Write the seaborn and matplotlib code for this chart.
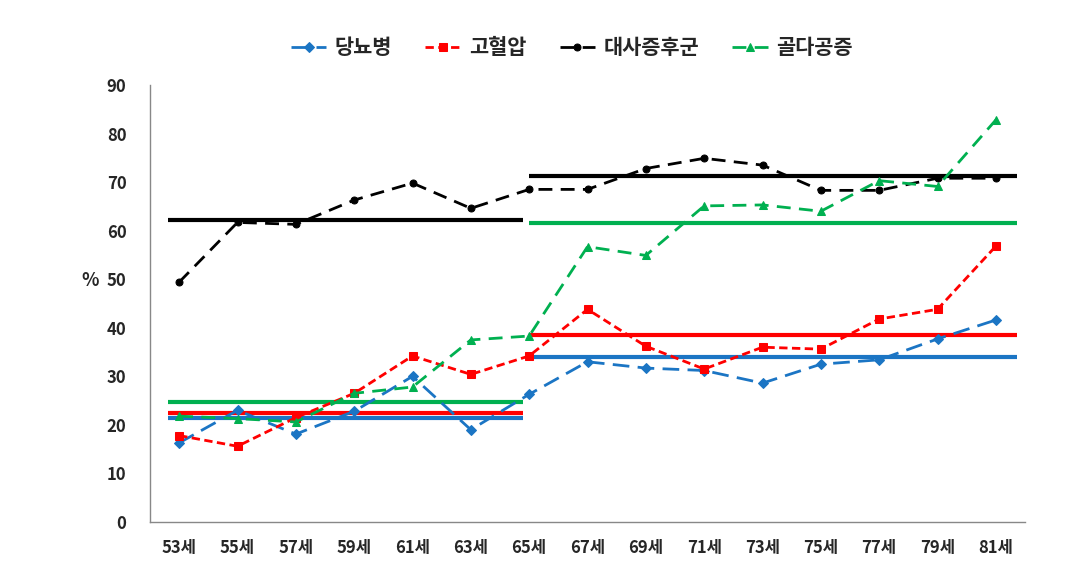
import matplotlib
matplotlib.use("Agg")
import matplotlib.pyplot as plt
import seaborn as sns
import numpy as np
import pandas as pd

ages = ["53세", "55세", "57세", "59세", "61세", "63세", "65세", "67세",
        "69세", "71세", "73세", "75세", "77세", "79세", "81세"]
diabetes = [16.3, 23.0, 18.1, 22.8, 30.0, 19.0, 26.3, 33.0, 31.7, 31.2, 28.6, 32.5, 33.4, 37.7, 41.6]
hypertension = [17.8, 15.6, 21.5, 26.5, 34.2, 30.4, 34.2, 43.8, 36.2, 31.5, 36.0, 35.6, 41.8, 43.8, 56.8]
metabolic = [49.4, 61.7, 61.3, 66.3, 69.8, 64.6, 68.5, 68.5, 72.8, 74.9, 73.5, 68.3, 68.3, 70.8, 70.8]
osteo = [21.8, 21.3, 20.6, 26.5, 27.8, 37.5, 38.3, 56.7, 54.9, 65.1, 65.3, 64.0, 70.3, 69.1, 82.8]

series_names = ["당뇨병", "고혈압", "대사증후군", "골다공증"]
avg_early = [21.4, 22.4, 62.1, 24.7]   # 53-65세 average
avg_late = [34.0, 38.5, 71.2, 61.5]    # 65-81세 average

colors = ["#1B75C4", "#FF0000", "#000000", "#00B050"]
markers = ["D", "s", "o", "^"]
msizes = [5, 6, 5, 6]
dashes = [(6, 3), (3, 1.6), (5, 3), (5, 3)]

sns.set_theme(style="white")
plt.rcParams['font.family'] = ['Noto Sans CJK KR', 'DejaVu Sans']

fig = plt.figure(figsize=(10.9, 5.79), dpi=100)
ax = fig.add_axes([150/1090, 1-522/579, 875/1090, (522-85)/579])

x = np.arange(len(ages))
all_vals = [diabetes, hypertension, metabolic, osteo]
for name, vals, c, m, ms, d in zip(series_names, all_vals, colors, markers, msizes, dashes):
    df = pd.DataFrame({"x": x, "y": vals})
    sns.lineplot(data=df, x="x", y="y", ax=ax, color=c, marker=m, markersize=ms,
                 markeredgecolor=c, linewidth=2, dashes=False, label=name)
    ax.lines[-1].set_dashes(d)

# average lines
for i in range(4):
    ax.hlines(avg_early[i], -0.19, 5.9, colors=colors[i], linewidth=3, zorder=1)
    ax.hlines(avg_late[i], 6.0, 14.37, colors=colors[i], linewidth=3, zorder=1)

ax.set_xlim(-0.5, len(ages) - 0.5)
ax.set_ylim(0, 90)
ax.set_yticks(np.arange(0, 91, 10))
ax.set_xticks(x)
ax.set_xticklabels(ages, fontsize=12, fontweight="bold")
ax.set_xticks(np.arange(-0.5, len(ages), 1), minor=True)
ax.tick_params(axis="x", which="major", length=0, pad=12)
ax.tick_params(axis="x", which="minor", length=5, color="#888888", width=1, direction="out")
ax.tick_params(axis="y", length=5, color="#888888", width=1, direction="out", pad=12)
for lab in ax.get_yticklabels():
    lab.set_fontsize(12)
    lab.set_fontweight("bold")
ax.set_xlabel("")
ax.set_ylabel("%", rotation=0, fontsize=13, fontweight="bold", labelpad=16)
ax.yaxis.set_label_coords(-0.068, 0.53)

for s in ["top", "right"]:
    ax.spines[s].set_visible(False)
for s in ["left", "bottom"]:
    ax.spines[s].set_color("#888888")
    ax.spines[s].set_linewidth(1)
ax.grid(False)

leg = ax.legend(loc="center", bbox_to_anchor=(0.482, 1.085), ncol=4, frameon=False,
                prop={"family": ["Noto Sans CJK KR", "DejaVu Sans"], "weight": "bold", "size": 15},
                handlelength=1.7, columnspacing=1.6, handletextpad=0.4)

fig.savefig("out.png", dpi=100)
